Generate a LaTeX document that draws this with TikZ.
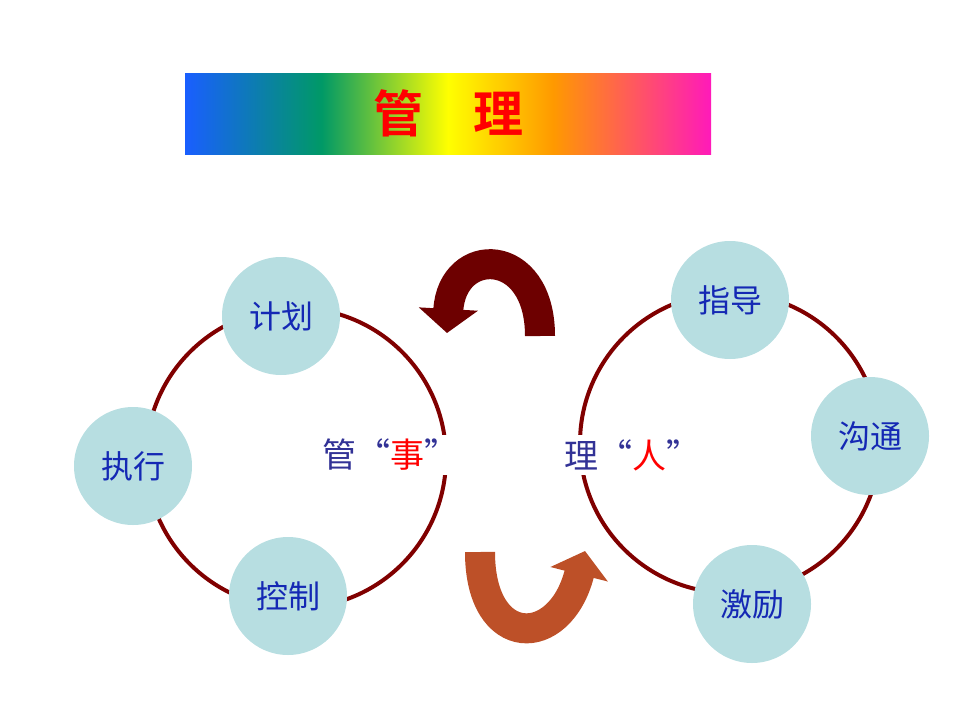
\documentclass[tikz,border=0pt]{standalone}
\usepackage{fontspec}
\setmainfont{Noto Sans CJK SC}
\newfontfamily\cjkb[BoldFont=* Bold]{Noto Sans CJK SC}
\usetikzlibrary{arrows.meta}
\definecolor{ring}{RGB}{128,0,0}
\definecolor{bub}{RGB}{183,222,225}
\definecolor{txtb}{RGB}{20,40,180}
\definecolor{navy}{RGB}{50,50,150}
\pgfdeclarehorizontalshading{rainbow}{100bp}{color(0bp)=(blue!70!cyan!90!white);color(25bp)=(blue!70!cyan!90!white);color(38bp)=(teal!80!green);color(50bp)=(yellow);color(60bp)=(orange!80!yellow);color(75bp)=(magenta!70!red!90!white);color(100bp)=(magenta!70!red!90!white)}
\tikzset{bubble/.style={circle,fill=bub,minimum size=118pt,inner sep=0pt,font=\fontsize{32}{32}\selectfont,text=txtb},
ringline/.style={draw=ring,line width=4pt},
band/.style={line width=30pt}}
\begin{document}
\begin{tikzpicture}[x=1pt,y=-1pt]
\useasboundingbox (0,0) rectangle (960,720);
\node[shading=rainbow,minimum width=526pt,minimum height=81pt,inner sep=0pt] (title) at (448,113.5) {};
\node[text=red,font=\cjkb\bfseries\fontsize{50}{50}\selectfont] (tt) at (title) {管\hspace{1em}理};
\draw[ringline] (296,458) circle (150);
\draw[ringline] (730,443) circle (150);
\node[bubble] (a) at (281,316) {计划};
\node[bubble] (b) at (133,466) {执行};
\node[bubble] (c) at (288,596) {控制};
\node[bubble] (d) at (730,300) {指导};
\node[bubble] (e) at (870,436) {沟通};
\node[bubble] (f) at (752,604) {激励};
\node[fill=white,inner sep=4pt,font=\fontsize{34}{34}\selectfont,text=navy] (m1) at (390,455) {管“\textcolor{red}{事}”};
\node[fill=white,inner sep=4pt,font=\fontsize{34}{34}\selectfont,text=navy] (m2) at (632,455) {理“\textcolor{red}{人}”};
\coordinate (t1) at (540,336);
\coordinate (t2) at (447,333);
\draw[band,draw=ring!85!black,-{Triangle[width=58pt,length=24pt]}] (t1) .. controls (540,245) and (452,245) .. (t2);
\coordinate (b1) at (480,552);
\coordinate (b2) at (585,551);
\draw[band,draw=brown!70!red!90!black,-{Triangle[width=58pt,length=24pt]}] (b1) .. controls (480,650) and (560,650) .. (b2);
\end{tikzpicture}
\end{document}
